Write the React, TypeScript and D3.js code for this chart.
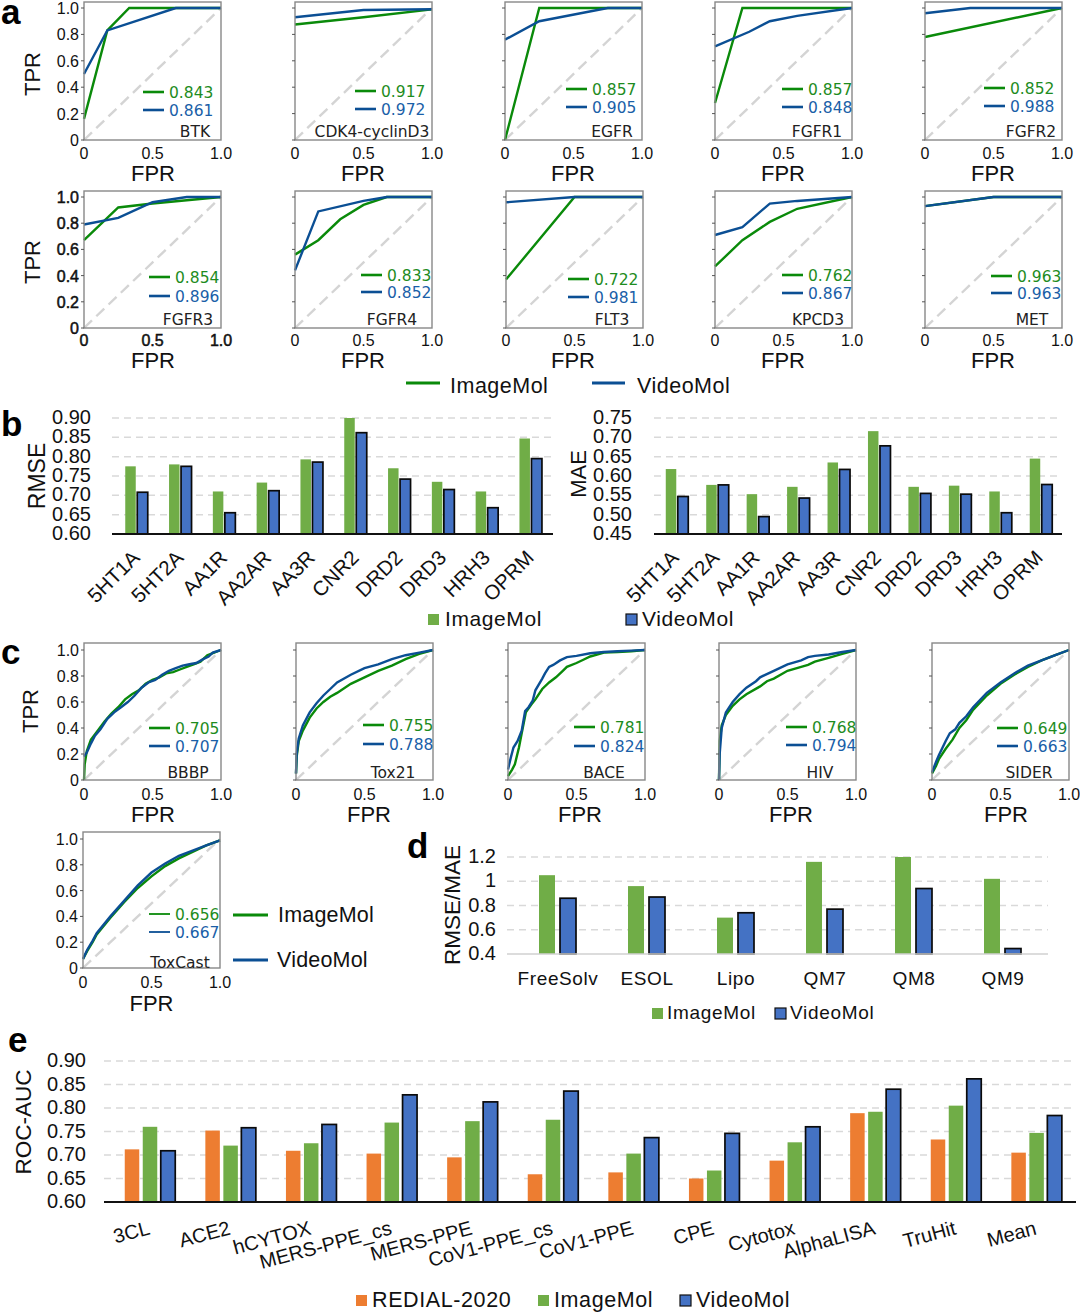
import React from 'react';
import * as d3 from 'd3';

const SANS = '"Liberation Sans", Arial, sans-serif';
const DJ = '"DejaVu Sans", sans-serif';
const GREEN = '#0a8a0a';
const BLUE = '#0b4f94';
const BG = '#70ad47';
const BB = '#4472c4';
const BO = '#ed7d31';

type P = [number, number];
const rocTicks = [0, 0.2, 0.4, 0.6, 0.8, 1];
const fprTicks = [0, 0.5, 1];

const aNames = ['BTK', 'CDK4-cyclinD3', 'EGFR', 'FGFR1', 'FGFR2', 'FGFR3', 'FGFR4', 'FLT3', 'KPCD3', 'MET'];
const aImgAuc = ['0.843', '0.917', '0.857', '0.857', '0.852', '0.854', '0.833', '0.722', '0.762', '0.963'];
const aVidAuc = ['0.861', '0.972', '0.905', '0.848', '0.988', '0.896', '0.852', '0.981', '0.867', '0.963'];
const aImg: P[][] = [
  [[0, .16], [.17, .83], [.33, 1], [1, 1]],
  [[0, .875], [.5, .93], [1, .99]],
  [[0, 0], [.25, 1], [1, 1]],
  [[0, .28], [.2, 1], [1, 1]],
  [[0, .78], [1, 1]],
  [[0, .67], [.25, .92], [.5, .95], [1, 1]],
  [[0, .56], [.17, .67], [.33, .83], [.5, .94], [.67, 1], [1, 1]],
  [[0, .37], [.5, 1], [1, 1]],
  [[0, .47], [.2, .67], [.4, .81], [.6, .91], [1, 1]],
  [[0, .93], [.5, 1], [1, 1]],
];
const aVid: P[][] = [
  [[0, .5], [.17, .83], [.67, 1], [1, 1]],
  [[0, .93], [.5, .985], [1, .99]],
  [[0, .76], [.25, .9], [.75, 1], [1, 1]],
  [[0, .71], [.25, .82], [.4, .9], [.6, .94], [1, 1]],
  [[0, .96], [.33, 1], [1, 1]],
  [[0, .79], [.25, .84], [.5, .96], [.75, 1], [1, 1]],
  [[0, .44], [.17, .89], [.5, .97], [.67, 1], [1, 1]],
  [[0, .96], [.5, 1], [1, 1]],
  [[0, .71], [.2, .77], [.4, .95], [.6, .97], [1, 1]],
  [[0, .93], [.5, 1], [1, 1]],
];

const cNames = ['BBBP', 'Tox21', 'BACE', 'HIV', 'SIDER', 'ToxCast'];
const cImgAuc = ['0.705', '0.755', '0.781', '0.768', '0.649', '0.656'];
const cVidAuc = ['0.707', '0.788', '0.824', '0.794', '0.663', '0.667'];
const cImg: P[][] = [
  [[0, 0], [.005, .12], [.02, .22], [.05, .31], [.1, .38], [.15, .45], [.2, .51], [.25, .56], [.3, .62], [.35, .66], [.4, .69], [.45, .74], [.5, .77], [.55, .79], [.6, .82], [.65, .83], [.7, .85], [.75, .87], [.8, .89], [.85, .91], [.9, .96], [.95, .98], [1, 1]],
  [[0, .05], [.005, .18], [.02, .3], [.05, .38], [.1, .48], [.15, .55], [.2, .6], [.25, .64], [.3, .67], [.4, .74], [.5, .79], [.6, .84], [.7, .88], [.8, .93], [.9, .97], [1, 1]],
  [[0, .03], [.03, .08], [.05, .12], [.08, .25], [.1, .36], [.13, .52], [.17, .58], [.2, .62], [.25, .7], [.3, .75], [.35, .79], [.4, .84], [.43, .87], [.5, .9], [.55, .925], [.6, .95], [.65, .965], [.7, .98], [.8, .985], [.9, .99], [1, 1]],
  [[0, 0], [.005, .3], [.02, .42], [.05, .5], [.1, .57], [.15, .62], [.2, .66], [.3, .72], [.35, .76], [.4, .78], [.5, .84], [.6, .87], [.65, .885], [.7, .91], [.8, .94], [.9, .97], [1, 1]],
  [[0, .05], [.03, .11], [.05, .16], [.1, .24], [.15, .31], [.2, .4], [.25, .46], [.3, .54], [.4, .65], [.5, .74], [.6, .81], [.7, .87], [.8, .92], [.9, .96], [1, 1]],
  [[0, .07], [.03, .13], [.07, .2], [.1, .26], [.2, .39], [.3, .51], [.4, .62], [.5, .71], [.6, .79], [.7, .85], [.8, .9], [.9, .95], [1, .99]],
];
const cVid: P[][] = [
  [[0, .18], [.02, .21], [.05, .28], [.08, .34], [.12, .39], [.17, .47], [.22, .52], [.27, .56], [.32, .6], [.37, .65], [.42, .71], [.47, .75], [.52, .77], [.57, .81], [.62, .84], [.67, .86], [.72, .88], [.77, .89], [.82, .9], [.87, .93], [.91, .95], [.94, .98], [1, 1]],
  [[0, .05], [.005, .2], [.02, .32], [.05, .42], [.1, .52], [.15, .59], [.2, .65], [.25, .7], [.3, .75], [.4, .81], [.5, .86], [.6, .89], [.7, .93], [.8, .96], [.9, .98], [1, 1]],
  [[0, .08], [.02, .17], [.04, .25], [.07, .3], [.1, .38], [.125, .53], [.15, .56], [.18, .61], [.2, .69], [.25, .78], [.27, .82], [.3, .87], [.33, .885], [.38, .92], [.43, .945], [.5, .955], [.6, .975], [.7, .985], [.8, .99], [.9, .995], [1, 1]],
  [[0, 0], [.005, .2], [.02, .4], [.05, .52], [.1, .6], [.15, .66], [.2, .71], [.27, .76], [.3, .79], [.4, .84], [.5, .89], [.6, .92], [.65, .945], [.7, .955], [.8, .965], [.9, .985], [1, 1]],
  [[0, .06], [.03, .14], [.05, .19], [.1, .3], [.13, .36], [.17, .39], [.2, .44], [.25, .49], [.3, .56], [.4, .67], [.5, .75], [.6, .82], [.7, .88], [.8, .92], [.9, .96], [1, 1]],
  [[0, .07], [.03, .14], [.07, .21], [.1, .27], [.2, .4], [.3, .52], [.4, .64], [.5, .74], [.6, .81], [.7, .87], [.8, .91], [.9, .95], [1, .99]],
];

const bCats = ['5HT1A', '5HT2A', 'AA1R', 'AA2AR', 'AA3R', 'CNR2', 'DRD2', 'DRD3', 'HRH3', 'OPRM'];
const rmseImg = [.775, .78, .71, .733, .793, .90, .77, .735, .71, .847];
const rmseVid = [.708, .775, .655, .712, .786, .862, .742, .715, .668, .795];
const maeImg = [.618, .577, .553, .572, .635, .716, .572, .575, .56, .645];
const maeVid = [.547, .577, .495, .543, .617, .678, .555, .553, .505, .578];
const rmseTicks = [.6, .65, .7, .75, .8, .85, .9];
const maeTicks = [.45, .5, .55, .6, .65, .7, .75];

const dCats = ['FreeSolv', 'ESOL', 'Lipo', 'QM7', 'QM8', 'QM9'];
const dImg = [1.05, .96, .70, 1.16, 1.2, 1.02];
const dVid = [.86, .87, .74, .77, .94, .445];
const dTicks = [.4, .6, .8, 1, 1.2];

const eCats = ['3CL', 'ACE2', 'hCYTOX', 'MERS-PPE_cs', 'MERS-PPE', 'CoV1-PPE_cs', 'CoV1-PPE', 'CPE', 'Cytotox', 'AlphaLISA', 'TruHit', 'Mean'];
const eRed = [.712, .752, .709, .703, .695, .659, .663, .65, .688, .789, .733, .705];
const eImg = [.76, .72, .725, .769, .772, .775, .703, .667, .727, .792, .805, .747];
const eVid = [.709, .758, .765, .828, .813, .836, .737, .746, .76, .84, .862, .784];
const eTicks = [.6, .65, .7, .75, .8, .85, .9];

const fmt = (v: number) => (v === 0 ? '0' : v.toFixed(1));

function Roc(p: { x0: number; top: number; y1: number; y0: number; w?: number; img: P[]; vid: P[]; name: string; a1: string; a2: string; yLabels: boolean; lx: number; ly1: number; ly2: number; ny: number; nx: number; fprY: number; fprX?: number; tickY?: number; heavy?: boolean; thin?: boolean; }) {
  const w = p.w ?? 137;
  const x = d3.scaleLinear().domain([0, 1]).range([p.x0, p.x0 + w]);
  const y = d3.scaleLinear().domain([0, 1]).range([p.y0, p.y1]);
  const line = d3.line<P>().x(d => x(d[0])).y(d => y(d[1]));
  const hv = p.heavy ? { stroke: '#111', strokeWidth: 0.5 } : {};
  return (
    <g>
      <line x1={x(0)} x2={x(1)} y1={y(0)} y2={y(1)} stroke="#d4d4d4" strokeWidth={2.4} strokeDasharray="11 6" />
      <path d={line(p.img) || ''} fill="none" stroke={GREEN} strokeWidth={2.4} />
      <path d={line(p.vid) || ''} fill="none" stroke={BLUE} strokeWidth={2.4} />
      <rect x={x(0)} y={p.top} width={w} height={p.y0 - p.top} fill="none" stroke="#888" strokeWidth={1.4} />
      {rocTicks.map(t => <g key={t}>
        <line x1={x(0) - 3} x2={x(0)} y1={y(t)} y2={y(t)} stroke="#555" strokeWidth={1} />
        {p.yLabels && <text x={x(0) - 5} y={y(t) + 6} textAnchor="end" fontFamily={SANS} fontSize={16} fill="#111" {...hv}>{fmt(t)}</text>}
      </g>)}
      {fprTicks.map(t => <text key={t} x={x(t)} y={p.y0 + (p.tickY ?? 18)} textAnchor="middle" fontFamily={SANS} fontSize={16} fill="#111" {...hv}>{fmt(t)}</text>)}
      <text x={p.fprX ?? x(0.5)} y={p.fprY} textAnchor="middle" fontFamily={SANS} fontSize={22} fill="#111">FPR</text>
      <line x1={p.lx} x2={p.lx + 21} y1={p.ly1} y2={p.ly1} stroke={GREEN} strokeWidth={p.thin ? 1.8 : 2.6} />
      <line x1={p.lx} x2={p.lx + 21} y1={p.ly2} y2={p.ly2} stroke={BLUE} strokeWidth={p.thin ? 1.8 : 2.6} />
      <text x={p.lx + 26} y={p.ly1 + 6} fontFamily={DJ} fontSize={15.5} fill="#1e8c1e">{p.a1}</text>
      <text x={p.lx + 26} y={p.ly2 + 6} fontFamily={DJ} fontSize={15.5} fill="#1a5fa8">{p.a2}</text>
      <text x={p.nx} y={p.ny} textAnchor="middle" fontFamily={DJ} fontSize={15.5} fill="#222">{p.name}</text>
    </g>
  );
}

function Bars(p: { cats: string[]; series: { v: number[]; c: string; dark: boolean }[]; dom: [number, number]; y0: number; y1: number; xl: number; xr: number; ticks: number[]; tf: (v: number) => string; tx: number; bw: number; gap: number; pad: number; step: number; baseline: boolean; fs: number; }) {
  const y = d3.scaleLinear().domain(p.dom).range([p.y0, p.y1]);
  const x = d3.scaleBand<string>().domain(p.cats).range([p.xl + p.pad, p.xl + p.pad + p.step * p.cats.length]);
  const total = p.series.length * p.bw + (p.series.length - 1) * p.gap;
  return (
    <g>
      {p.ticks.map(t => <g key={t}>
        {t !== p.dom[0] && <line x1={p.xl} x2={p.xr} y1={y(t)} y2={y(t)} stroke="#d9d9d9" strokeWidth={1.5} strokeDasharray="7 5" />}
        <text x={p.tx} y={y(t) + 6} textAnchor="end" fontFamily={SANS} fontSize={p.fs} fill="#111">{p.tf(t)}</text>
      </g>)}
      {p.cats.map((c, i) => {
        const cx = (x(c) as number) + x.bandwidth() / 2;
        return <g key={c}>
          {p.series.map((s, j) => {
            const bx = cx - total / 2 + j * (p.bw + p.gap);
            return <rect key={j} x={bx} y={y(s.v[i])} width={p.bw} height={p.y0 - y(s.v[i])} fill={s.c} stroke={s.dark ? '#0a0a0a' : 'none'} strokeWidth={s.dark ? 1.7 : 0} />;
          })}
        </g>;
      })}
      <line x1={p.xl} x2={p.xr} y1={p.y0} y2={p.y0} stroke={p.baseline ? '#111' : '#d0d0d0'} strokeWidth={p.baseline ? 2.2 : 1.6} />
    </g>
  );
}

function RotLabels(p: { cats: string[]; xs: number[]; y: number; rot: number; fs: number; anchor: string }) {
  return <g>{p.cats.map((c, i) => <text key={c} transform={`translate(${p.xs[i]},${p.y}) rotate(${p.rot})`} textAnchor={p.anchor as any} fontFamily={SANS} fontSize={p.fs} fill="#111">{c}</text>)}</g>;
}

function Sq(p: { x: number; y: number; c: string; dark?: boolean; s?: number }) {
  const s = p.s ?? 11;
  return <rect x={p.x} y={p.y} width={s} height={s} fill={p.c} stroke={p.dark ? '#111' : 'none'} strokeWidth={p.dark ? 1.2 : 0} />;
}

const aX1 = [84, 295, 505, 715, 925];
const aX2 = [84, 295, 506, 715, 925];
const aLeg1 = [[143, 92, 110], [355, 91, 109], [566, 89, 107], [782, 89, 107], [984, 88, 106]];
const aLeg2 = [[149, 277, 296], [361, 275, 292], [568, 279, 297], [782, 275, 293], [991, 276, 293]];
const aNX1 = [195, 372, 612, 817, 1031];
const aNX2 = [188, 392, 612, 818, 1032];
const cX = [84, 296, 508, 719, 932];
const cFprX = [153, 369, 580, 791, 1006];
const cLeg = [[149, 728, 746], [363, 725, 744], [574, 727, 746], [786, 727, 745], [997, 728, 746]];
const cNX = [188, 393, 604, 820, 1029];

export default function App() {
  return (
    <svg width={1080} height={1312} style={{ position: 'absolute', left: 0, top: 0 }}>
      <rect width={1080} height={1312} fill="#fff" />
      {aNames.slice(0, 5).map((n, i) => <Roc key={n} x0={aX1[i]} top={2} y1={8} y0={140} img={aImg[i]} vid={aVid[i]} name={n} a1={aImgAuc[i]} a2={aVidAuc[i]} yLabels={i === 0} lx={aLeg1[i][0]} ly1={aLeg1[i][1]} ly2={aLeg1[i][2]} ny={137} nx={aNX1[i]} fprY={181} fprX={153 + i * 210} tickY={19} />)}
      {aNames.slice(5).map((n, i) => <Roc key={n} x0={aX2[i]} top={191} y1={197} y0={328} img={aImg[i + 5]} vid={aVid[i + 5]} name={n} a1={aImgAuc[i + 5]} a2={aVidAuc[i + 5]} yLabels={i === 0} lx={aLeg2[i][0]} ly1={aLeg2[i][1]} ly2={aLeg2[i][2]} ny={325} nx={aNX2[i]} fprY={368} fprX={153 + i * 210} heavy={i === 0} />)}
      {cNames.slice(0, 5).map((n, i) => <Roc key={n} x0={cX[i]} top={643} y1={650} y0={780} img={cImg[i]} vid={cVid[i]} name={n} a1={cImgAuc[i]} a2={cVidAuc[i]} yLabels={i === 0} lx={cLeg[i][0]} ly1={cLeg[i][1]} ly2={cLeg[i][2]} ny={778} nx={cNX[i]} fprY={822} fprX={cFprX[i]} tickY={20} />)}
      <Roc x0={83} top={832} y1={839} y0={968} img={cImg[5]} vid={cVid[5]} name={cNames[5]} a1={cImgAuc[5]} a2={cVidAuc[5]} yLabels lx={149} ly1={914} ly2={932} ny={968} nx={180} fprY={1011} tickY={20} thin />

      <text transform="translate(40,74) rotate(-90)" textAnchor="middle" fontFamily={SANS} fontSize={22} fill="#111">TPR</text>
      <text transform="translate(40,262) rotate(-90)" textAnchor="middle" fontFamily={SANS} fontSize={22} fill="#111">TPR</text>
      <text transform="translate(38,711) rotate(-90)" textAnchor="middle" fontFamily={SANS} fontSize={22} fill="#111">TPR</text>

      <line x1={406} x2={440} y1={383} y2={383} stroke={GREEN} strokeWidth={3} />
      <text x={450} y={393} fontFamily={SANS} fontSize={21.5} letterSpacing={0.5} fill="#111">ImageMol</text>
      <line x1={592} x2={625} y1={383} y2={383} stroke={BLUE} strokeWidth={3} />
      <text x={637} y={393} fontFamily={SANS} fontSize={21.5} letterSpacing={0.5} fill="#111">VideoMol</text>

      <Bars cats={bCats} series={[{ v: rmseImg, c: BG, dark: false }, { v: rmseVid, c: BB, dark: true }]} dom={[.6, .9]} y0={534} y1={418} xl={112} xr={553} ticks={rmseTicks} tf={v => v.toFixed(2)} tx={91} bw={10.5} gap={1.5} pad={2.6} step={43.8} baseline fs={20} />
      <text transform="translate(45,476) rotate(-90)" textAnchor="middle" fontFamily={SANS} fontSize={23} fill="#111">RMSE</text>
      <RotLabels cats={bCats} xs={bCats.map((_, i) => 141 + i * 43.8)} y={559} rot={-45} fs={20.5} anchor="end" />
      <Bars cats={bCats} series={[{ v: maeImg, c: BG, dark: false }, { v: maeVid, c: BB, dark: true }]} dom={[.45, .75]} y0={534} y1={418} xl={654} xr={1062} ticks={maeTicks} tf={v => v.toFixed(2)} tx={632} bw={10.5} gap={1.5} pad={2.8} step={40.44} baseline fs={20} />
      <text transform="translate(586,474) rotate(-90)" textAnchor="middle" fontFamily={SANS} fontSize={22} fill="#111">MAE</text>
      <RotLabels cats={bCats} xs={bCats.map((_, i) => 680 + i * 40.44)} y={559} rot={-45} fs={20.5} anchor="end" />
      <Sq x={428} y={614} c={BG} />
      <text x={445} y={626} fontFamily={SANS} fontSize={21} fill="#111" letterSpacing={0.6}>ImageMol</text>
      <Sq x={626} y={614} c={BB} dark />
      <text x={642} y={626} fontFamily={SANS} fontSize={21} fill="#111" letterSpacing={0.6}>VideoMol</text>

      <line x1={233} x2={268} y1={915} y2={915} stroke={GREEN} strokeWidth={3} />
      <text x={278} y={922} fontFamily={SANS} fontSize={21.5} letterSpacing={0.2} fill="#111">ImageMol</text>
      <line x1={233} x2={268} y1={960} y2={960} stroke={BLUE} strokeWidth={3} />
      <text x={277} y={967} fontFamily={SANS} fontSize={21.5} letterSpacing={0.2} fill="#111">VideoMol</text>

      <Bars cats={dCats} series={[{ v: dImg, c: BG, dark: false }, { v: dVid, c: BB, dark: true }]} dom={[.4, 1.2]} y0={954} y1={857} xl={507} xr={1048} ticks={dTicks} tf={v => (v === 1 ? '1' : v.toFixed(1))} tx={496} bw={16} gap={5} pad={6} step={89} baseline={false} fs={20} />
      <text transform="translate(460,905) rotate(-90)" textAnchor="middle" fontFamily={SANS} fontSize={22.5} fill="#111">RMSE/MAE</text>
      {dCats.map((c, i) => <text key={c} x={558 + i * 89} y={985} textAnchor="middle" fontFamily={SANS} fontSize={19} letterSpacing={0.6} fill="#111">{c}</text>)}
      <Sq x={652} y={1008} c={BG} />
      <text x={667} y={1019} fontFamily={SANS} fontSize={19} fill="#111" letterSpacing={0.7}>ImageMol</text>
      <Sq x={775} y={1008} c={BB} dark />
      <text x={790} y={1019} fontFamily={SANS} fontSize={19} fill="#111" letterSpacing={0.7}>VideoMol</text>

      <Bars cats={eCats} series={[{ v: eRed, c: BO, dark: false }, { v: eImg, c: BG, dark: false }, { v: eVid, c: BB, dark: true }]} dom={[.6, .9]} y0={1202} y1={1061} xl={104} xr={1076} ticks={eTicks} tf={v => v.toFixed(2)} tx={86} bw={14.5} gap={3.5} pad={5.7} step={80.6} baseline fs={20} />
      <text transform="translate(31,1122) rotate(-90)" textAnchor="middle" fontFamily={SANS} fontSize={22.5} fill="#111">ROC-AUC</text>
      <RotLabels cats={eCats} xs={eCats.map((_, i) => 151 + i * 80.6)} y={1234} rot={-15} fs={20} anchor="end" />
      <Sq x={356} y={1295} c={BO} />
      <text x={372} y={1307} fontFamily={SANS} fontSize={21.5} fill="#111" letterSpacing={0.6}>REDIAL-2020</text>
      <Sq x={538} y={1295} c={BG} />
      <text x={554} y={1307} fontFamily={SANS} fontSize={21.5} fill="#111" letterSpacing={0.6}>ImageMol</text>
      <Sq x={680} y={1295} c={BB} dark />
      <text x={696} y={1307} fontFamily={SANS} fontSize={21.5} fill="#111" letterSpacing={0.6}>VideoMol</text>

      {[['a', 1, 24], ['b', 1, 436], ['c', 1, 664], ['d', 407, 858], ['e', 8, 1052]].map(([t, x, y]) => <text key={t as string} x={x as number} y={y as number} fontFamily={SANS} fontWeight="bold" fontSize={35} fill="#000">{t}</text>)}
    </svg>
  );
}
